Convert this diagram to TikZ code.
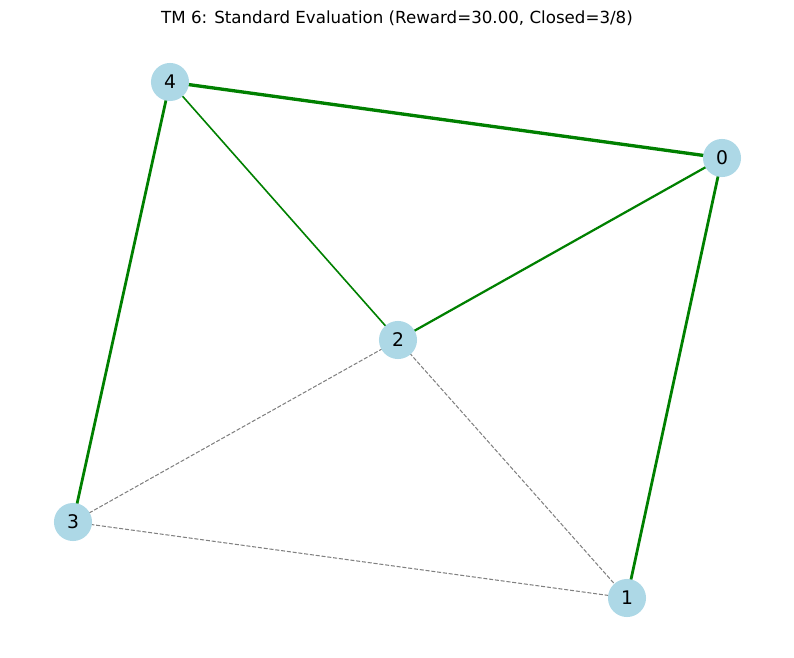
\documentclass[tikz,border=0pt]{standalone}
\usepackage{fontspec}
\setmainfont{DejaVu Sans}
\definecolor{lightblue}{HTML}{ADD8E6}
\definecolor{edgegreen}{HTML}{008000}
\tikzset{
  city/.style={circle, fill=lightblue, minimum size=27.4pt, inner sep=0pt, font=\fontsize{13.5}{15}\selectfont},
  closed/.style={edgegreen},
  open/.style={gray, dashed, line width=0.75pt, dash pattern=on 2.9pt off 1.3pt}
}
\begin{document}
\begin{tikzpicture}[x=0.72pt, y=-0.72pt]
\useasboundingbox (0,0) rectangle (794,658);
\node[font=\fontsize{12}{14}\selectfont] at (397,18) (title){TM 6: Standard Evaluation (Reward=30.00, Closed=3/8)};

% edges first, nodes on top
\coordinate (p0) at (722,158);
\coordinate (p1) at (627,598);
\coordinate (p2) at (398,340);
\coordinate (p3) at (73,522);
\coordinate (p4) at (170,82);

\draw[open] (p2) -- (p3);
\draw[open] (p2) -- (p1);
\draw[open] (p3) -- (p1);
\draw[closed, line width=2.4pt] (p4) -- (p0); % heaviest
\draw[closed, line width=2pt] (p0) -- (p1);
\draw[closed, line width=2pt] (p4) -- (p3);
\draw[closed, line width=1.6pt] (p0) -- (p2);
\draw[closed, line width=1.15pt] (p4) -- (p2);

\node[city] at (p0) (n0){0};
\node[city] at (p1) (n1){1};
\node[city] at (p2) (n2){2};
\node[city] at (p3) (n3){3};
\node[city] at (p4) (n4){4};

\end{tikzpicture}
\end{document}
